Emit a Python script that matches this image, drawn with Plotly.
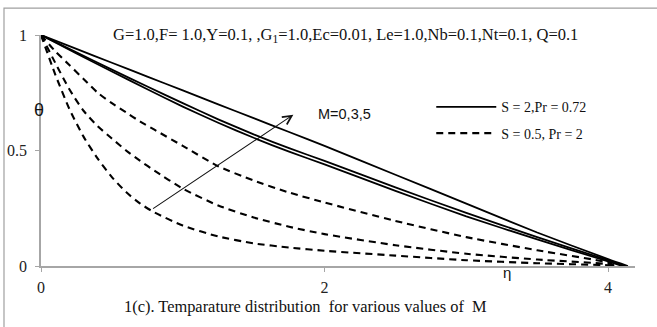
import plotly.graph_objects as go

# ---------------- data ----------------
eta_solid_top = [0, 0.25, 0.5, 0.75, 1.0, 1.25, 1.5, 1.75, 2.0, 2.5, 3.0, 3.5, 4.0, 4.14]
theta_solid_top = [1.0, 0.94, 0.88, 0.82, 0.76, 0.70, 0.64, 0.58, 0.52, 0.395, 0.27, 0.145, 0.03, 0.0]

eta_solid_a = [0, 0.25, 0.5, 0.75, 1.0, 1.25, 1.5, 1.75, 2.0, 2.5, 3.0, 3.5, 4.0, 4.12]
theta_solid_a = [1.0, 0.925, 0.85, 0.777, 0.705, 0.635, 0.57, 0.51, 0.455, 0.34, 0.23, 0.125, 0.025, 0.0]

eta_solid_b = [0, 0.25, 0.5, 0.75, 1.0, 1.25, 1.5, 1.75, 2.0, 2.5, 3.0, 3.5, 4.0, 4.1]
theta_solid_b = [1.0, 0.92, 0.842, 0.765, 0.69, 0.62, 0.555, 0.495, 0.44, 0.325, 0.215, 0.115, 0.02, 0.0]

eta_dashed = [0, 0.1, 0.2, 0.3, 0.4, 0.5, 0.6, 0.7, 0.8, 1.0, 1.25, 1.5, 1.75, 2.0, 2.5, 3.0, 3.5, 4.0, 4.05]
theta_dashed_1 = [1.0, 0.93, 0.87, 0.81, 0.75, 0.705, 0.665, 0.625, 0.59, 0.52, 0.432, 0.37, 0.318, 0.275, 0.195, 0.125, 0.068, 0.015, 0.0]
theta_dashed_2 = [1.0, 0.88, 0.765, 0.672, 0.605, 0.552, 0.50, 0.455, 0.413, 0.335, 0.262, 0.21, 0.17, 0.138, 0.09, 0.053, 0.028, 0.008, 0.0]
theta_dashed_3 = [1.0, 0.83, 0.68, 0.56, 0.465, 0.385, 0.32, 0.27, 0.232, 0.175, 0.128, 0.098, 0.08, 0.066, 0.045, 0.025, 0.012, 0.003, 0.0]

x_ticks = [0, 2, 4]
y_ticks = [0, 0.5, 1]
y_tick_labels = ["0", "0.5", "1"]

legend_solid = "S = 2,Pr = 0.72"
legend_dashed = "S = 0.5, Pr = 2"
params_text = "G=1.0,F= 1.0,Υ=0.1, ,G<sub>1</sub>=1.0,Ec=0.01, Le=1.0,Nb=0.1,Nt=0.1, Q=0.1"
caption_text = "1(c). Temparature distribution  for various values of  M"
m_label = "M=0,3,5"
arrow_tail = (0.78, 0.244)
arrow_head = (1.78, 0.655)

# ---------------- figure ----------------
fig = go.Figure()
SERIF = "Liberation Serif, Times New Roman, serif"
SANS = "Liberation Sans, Arial, sans-serif"

solid_sets = [(eta_solid_top, theta_solid_top), (eta_solid_a, theta_solid_a), (eta_solid_b, theta_solid_b)]
for i, (ex, th) in enumerate(solid_sets):
    fig.add_trace(go.Scatter(
        x=ex, y=th, mode="lines", line=dict(color="black", width=1.8, shape="spline", smoothing=0.6),
        name=legend_solid, legendgroup="solid", showlegend=(i == 0), hoverinfo="skip"))

for i, th in enumerate([theta_dashed_1, theta_dashed_2, theta_dashed_3]):
    fig.add_trace(go.Scatter(
        x=eta_dashed, y=th, mode="lines",
        line=dict(color="black", width=2.1, dash="7px,5px", shape="spline", smoothing=0.6),
        name=legend_dashed, legendgroup="dashed", showlegend=(i == 0), hoverinfo="skip"))

axis_color = "#a6a6a6"
fig.update_xaxes(range=[0, 4.19], tickvals=x_ticks, ticktext=[str(v) for v in x_ticks],
                 showline=True, linecolor=axis_color, linewidth=1.5, ticks="outside", ticklen=4,
                 tickcolor=axis_color, showgrid=False, zeroline=False, automargin=False,
                 tickfont=dict(family=SERIF, size=16, color="#222"), ticklabelstandoff=2)
fig.update_yaxes(range=[0, 1], tickvals=y_ticks, ticktext=y_tick_labels,
                 showline=True, linecolor=axis_color, linewidth=1.5, ticks="outside", ticklen=4,
                 tickcolor=axis_color, showgrid=False, zeroline=False, automargin=False,
                 tickfont=dict(family=SERIF, size=16, color="#222"), ticklabelstandoff=5)

ann = [
    dict(x=2.15, y=1.0, xref="x", yref="y", text=params_text, showarrow=False,
         font=dict(family=SERIF, size=16.5, color="#111"), xanchor="center", yanchor="middle"),
    dict(x=arrow_head[0], y=arrow_head[1], ax=arrow_tail[0], ay=arrow_tail[1],
         xref="x", yref="y", axref="x", ayref="y", text="", showarrow=True,
         arrowhead=5, arrowsize=1.6, arrowwidth=1.1, arrowcolor="#111", standoff=0, startstandoff=0),
    dict(x=2.14, y=0.659, xref="x", yref="y", text=m_label, showarrow=False,
         font=dict(family=SANS, size=14.5, color="#111"), xanchor="center", yanchor="middle"),
    dict(x=-0.0034, y=0.676, xref="paper", yref="paper", text="θ", showarrow=False,
         font=dict(family=SANS, size=18, color="#111"), xanchor="center", yanchor="middle"),
    dict(x=0.7845, y=-0.028, xref="paper", yref="paper", text="η", showarrow=False,
         font=dict(family=SANS, size=15, color="#111"), xanchor="center", yanchor="middle"),
    dict(x=0.446, y=-0.175, xref="paper", yref="paper", text=caption_text, showarrow=False,
         font=dict(family=SERIF, size=16.4, color="#111"), xanchor="center", yanchor="middle"),
]

fig.update_layout(
    width=657, height=327,
    margin=dict(l=41, r=22, t=35, b=61, pad=0, autoexpand=False),
    paper_bgcolor="white", plot_bgcolor="white",
    annotations=ann,
    showlegend=True,
    legend=dict(x=0.657, y=0.756, xanchor="left", yanchor="top", bgcolor="rgba(0,0,0,0)",
                font=dict(family=SERIF, size=14, color="#111"), tracegroupgap=5,
                traceorder="grouped", itemwidth=60),
    shapes=[dict(type="rect", xref="paper", yref="paper", x0=-0.0623, x1=1.05, y0=-0.3, y1=1.1166,
                 line=dict(color="#a0a0a0", width=1.2), fillcolor="rgba(0,0,0,0)", layer="below")],
)

fig.write_html("out.html", config={"displayModeBar": False},
               post_script="document.body.style.margin='0';document.body.style.padding='0';document.body.style.overflow='hidden';")
